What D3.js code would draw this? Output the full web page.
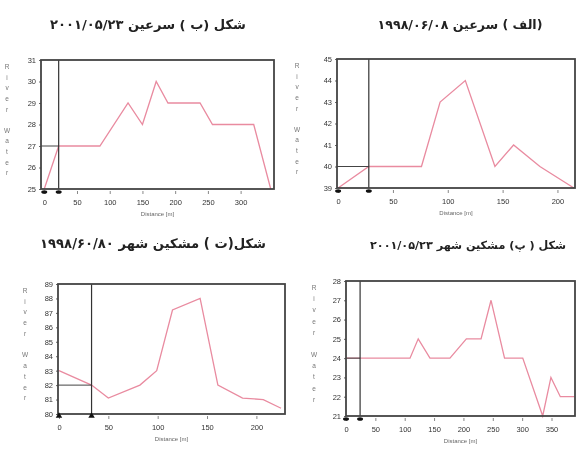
<!DOCTYPE html>
<html>
<head>
<meta charset="utf-8">
<script src="https://cdn.jsdelivr.net/npm/d3@7"></script>
<style>
  body { margin: 0; background: #fff; }
  svg { display: block; }
  .tick text { font-family: "Liberation Sans", Arial, sans-serif; font-size: 7.5px; fill: #333; }
  .title { font-family: "DejaVu Sans", sans-serif; font-weight: bold; fill: #222; }
</style>
</head>
<body>
<div id="chart"></div>
<script>
// (الف) سرعین 1998
const distA = [0, 28, 76, 93, 116, 143, 160, 184, 215];
const elevA = [39, 40, 40, 43, 44, 40, 41, 40, 39];
// (ب) سرعین 2001
const distB = [0, 22, 85, 128, 150, 171, 189, 238, 257, 320, 346];
const elevB = [25, 27, 27, 29, 28, 30, 29, 29, 28, 28, 25];
// (ت) مشکین شهر 1998
const distT = [0, 33, 50, 82, 99, 115, 143, 161, 186, 207, 225];
const elevT = [83, 82, 81.1, 82, 83, 87.2, 88, 82, 81.1, 81, 80.4];
// (پ) مشکین شهر 2001
const distP = [0, 24, 109, 123, 143, 177, 205, 230, 247, 270, 301, 335, 349, 365, 389];
const elevP = [24, 24, 24, 25, 24, 24, 25, 25, 27, 24, 24, 21, 23, 22, 22];

const xTicks = [0, 50, 100, 150, 200, 250, 300, 350];
const yLabel = "River Water";
const xLabel = "Distance [m]";

const panels = [
  { title: "شکل (ب ) سرعین ۲۰۰۱/۰۵/۲۳", dist: distB, elev: elevB, refX: 22, refY: 27,
    xDom: [-5, 351], yDom: [25, 31], box: [41, 60, 274, 189], tx: 148, tw: 196, ty: 29, lx: 7, marker: "dot" },
  { title: "(الف ) سرعین ۱۹۹۸/۰۶/۰۸", dist: distA, elev: elevA, refX: 28, refY: 40,
    xDom: [-1, 216], yDom: [39, 45], box: [337, 59, 575, 188], tx: 460, tw: 165, ty: 29, lx: 297, marker: "dot" },
  { title: "شکل(ت ) مشکین شهر ۱۹۹۸/۶۰/۸۰", dist: distT, elev: elevT, refX: 33, refY: 82,
    xDom: [-1, 229], yDom: [80, 89], box: [58, 284, 285, 414], tx: 153, tw: 226, ty: 248, lx: 25, marker: "tri" },
  { title: "شکل ( پ) مشکین شهر ۲۰۰۱/۰۵/۲۳", dist: distP, elev: elevP, refX: 24, refY: 24,
    xDom: [0, 390], yDom: [21, 28], box: [346, 281, 575, 416], tx: 468, tw: 196, ty: 249, lx: 314, marker: "dot" }
];

const svg = d3.select("#chart").append("svg")
  .attr("width", 576)
  .attr("height", 453)
  .style("filter", "blur(0.35px)");

panels.forEach(p => {
  const [x0, y0, x1, y1] = p.box;
  const x = d3.scaleLinear().domain(p.xDom).range([x0, x1]);
  const y = d3.scaleLinear().domain(p.yDom).range([y1, y0]);
  const g = svg.append("g");

  // titel, font size fitted to the width seen in the picture
  const title = g.append("text")
    .attr("class", "title")
    .attr("x", p.tx).attr("y", p.ty)
    .attr("text-anchor", "middle")
    .attr("direction", "rtl")
    .style("font-size", "12px")
    .text(p.title);
  const len = title.node().getComputedTextLength();
  title.style("font-size", (12 * p.tw / len).toFixed(2) + "px");

  // axes
  g.append("g")
    .attr("transform", `translate(0,${y1 + 2})`)
    .call(d3.axisBottom(x).tickValues(xTicks.filter(v => v <= p.xDom[1] - 10)).tickSize(3).tickPadding(6))
    .call(a => a.select(".domain").remove())
    .call(a => a.selectAll("line").attr("stroke", "#888"));

  g.append("g")
    .attr("transform", `translate(${x0},0)`)
    .call(d3.axisLeft(y).tickValues(d3.range(p.yDom[0], p.yDom[1] + 1)).tickSize(2).tickPadding(3).tickFormat(d3.format("d")))
    .call(a => a.select(".domain").remove())
    .call(a => a.selectAll("line").attr("stroke", "#666"));

  g.append("text")
    .attr("x", (x0 + x1) / 2).attr("y", y1 + 27)
    .attr("text-anchor", "middle")
    .style("font-family", "Liberation Sans, Arial, sans-serif")
    .style("font-size", "6px").style("fill", "#666")
    .text(xLabel);

  // vertical stacked y label
  const chars = yLabel.split("");
  const step = (y1 - y0 - 12) / chars.length;
  g.append("g").selectAll("text")
    .data(chars)
    .enter().append("text")
    .attr("x", p.lx)
    .attr("y", (d, i) => y0 + 9 + i * step)
    .attr("text-anchor", "middle")
    .style("font-family", "Liberation Sans, Arial, sans-serif")
    .style("font-size", "6.5px").style("fill", "#777")
    .text(d => d);

  // profile line
  const line = d3.line().x((d, i) => x(p.dist[i])).y(d => y(d));
  g.append("path")
    .datum(p.elev)
    .attr("fill", "none")
    .attr("stroke", "#e98ba0")
    .attr("stroke-width", 1.3)
    .attr("d", line);

  // reference lines
  g.append("line")
    .attr("x1", x0).attr("x2", x(p.refX))
    .attr("y1", y(p.refY)).attr("y2", y(p.refY))
    .attr("stroke", "#444").attr("stroke-width", 1);
  g.append("line")
    .attr("x1", x(p.refX)).attr("x2", x(p.refX))
    .attr("y1", y0).attr("y2", y1)
    .attr("stroke", "#333").attr("stroke-width", 1.2);

  // frame
  g.append("rect")
    .attr("x", x0).attr("y", y0)
    .attr("width", x1 - x0).attr("height", y1 - y0)
    .attr("fill", "none")
    .attr("stroke", "#444").attr("stroke-width", 1.8);

  // markers under the axis
  [p.xDom[0] < 0 ? 0 : p.xDom[0], p.refX].forEach(v => {
    if (p.marker === "tri") {
      g.append("path")
        .attr("d", d3.symbol(d3.symbolTriangle, 18)())
        .attr("transform", `translate(${x(v)},${y1 + 2})`)
        .attr("fill", "#111");
    } else {
      g.append("ellipse")
        .attr("cx", x(v)).attr("cy", y1 + 3)
        .attr("rx", 3).attr("ry", 1.8)
        .attr("fill", "#111");
    }
  });
});
</script>
</body>
</html>
